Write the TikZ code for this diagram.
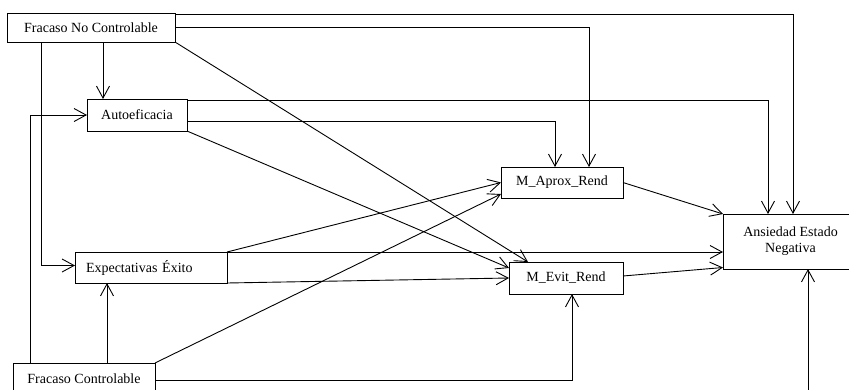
\documentclass[tikz,border=0pt]{standalone}
\usepackage{fontspec}
\setmainfont{Liberation Serif}
\usetikzlibrary{arrows.meta,calc}
\begin{document}
\begin{tikzpicture}[x=1pt,y=-1pt,
  box/.style={draw, line width=0.9pt, inner sep=0pt, outer sep=0pt,
    font=\fontsize{14}{16}\selectfont, fill=white},
  arr/.style={line width=0.9pt, -{Straight Barb[length=12pt,width=13pt,line width=0.9pt]}}]
\useasboundingbox (0,0) rectangle (849,389);
\fill[white] (0,0) rectangle (849,389);
\clip (0,0) rectangle (849,389);

% nodes
\node[box, minimum width=168pt, minimum height=29pt] (FNC) at (91,27.5) {Fracaso No Controlable};
\node[box, minimum width=100pt, minimum height=32pt] (AU) at (137,115) {Autoeficacia};
\node[box, text width=130pt, inner xsep=11pt, align=left, minimum height=31pt] (EX) at (151,267.5) {Expectativas Éxito};
\node[box, minimum width=142pt, minimum height=32pt] (FC) at (84,379) {Fracaso Controlable};
\node[box, minimum width=122pt, minimum height=31pt] (MA) at (562,182.5) {M\_Aprox\_Rend};
\node[box, minimum width=114pt, minimum height=32pt] (ME) at (566,278) {M\_Evit\_Rend};
\node[box, minimum width=135pt, minimum height=55pt, align=center] (AN) at (790.5,241.5) {Ansiedad Estado\\Negativa};

% helper coordinates
\coordinate (c1) at ([xshift=12pt]FNC.south);
\coordinate (c2) at ([xshift=-50pt]FNC.south);
\coordinate (c3) at ([xshift=17pt]FC.north west);
\coordinate (c4) at ([xshift=23pt]FC.north);
\coordinate (bot) at (808,395);

% from Fracaso No Controlable
\draw[arr] ([yshift=-1pt]FNC.north east) -| ([xshift=2.5pt]AN.north);
\draw[arr] (FNC.east) -| ([xshift=27pt]MA.north);
\draw[arr] (FNC.south east) -- ([xshift=-38pt]ME.north);
\draw[arr] (c1) -- (c1 |- AU.north);
\draw[arr] (c2) |- ([yshift=2pt]EX.west);

% from Autoeficacia
\draw[arr] ([yshift=-1pt]AU.north east) -| ([xshift=-22.5pt]AN.north);
\draw[arr] ([yshift=-22pt]AU.north east) -| ([xshift=-7pt]MA.north);
\draw[arr] (AU.south east) -- ([yshift=-6pt]ME.north west);

% from Fracaso Controlable
\draw[arr] (c3) |- (AU.west);
\draw[arr] (c4) -- (c4 |- EX.south);
\draw[arr] (FC.north east) -- ([yshift=4pt]MA.south west);
\draw[arr] ([yshift=-17pt]FC.north east) -| ([xshift=6pt]ME.south);

% from Expectativas
\draw[arr] (EX.north east) -- (MA.west);
\draw[arr] (EX.north east) -- (EX.north east -| AN.west);
\draw[arr] (EX.south east) -- (ME.west);

% to Ansiedad
\draw[arr] (MA.east) -- (AN.north west);
\draw[arr] ([yshift=2pt]ME.east) -- ([yshift=1.5pt]AN.south west);
\draw[arr] (bot) -- (bot |- AN.south);
\end{tikzpicture}
\end{document}
